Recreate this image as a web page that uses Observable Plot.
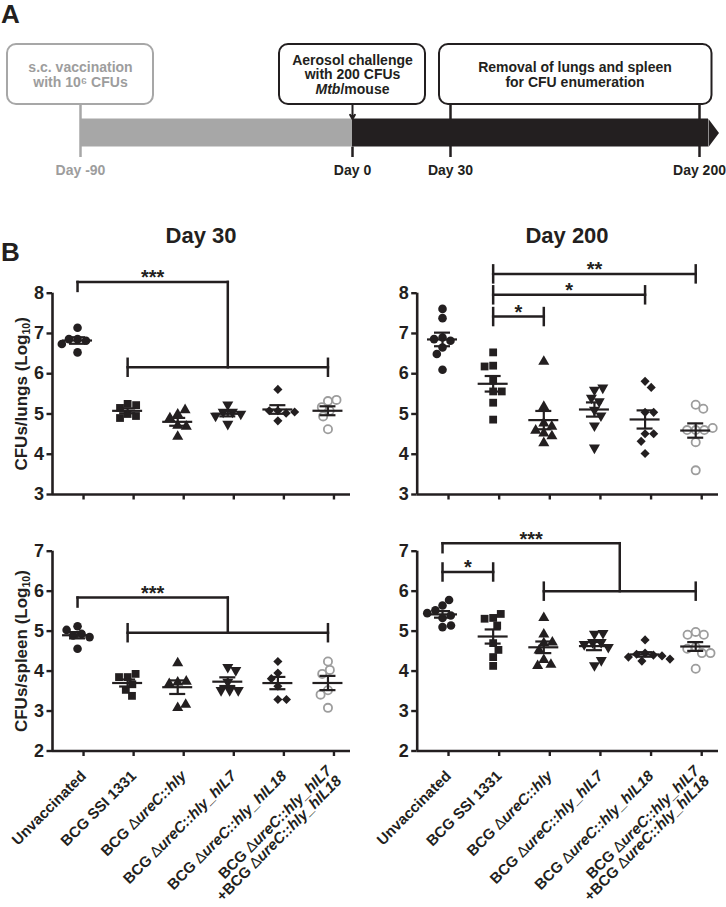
<!DOCTYPE html>
<html><head><meta charset="utf-8">
<script src="https://cdn.jsdelivr.net/npm/d3@7"></script>
<script src="https://cdn.jsdelivr.net/npm/@observablehq/plot@0.6"></script>
<style>
body{margin:0;background:#fff;}
#fig{position:relative;width:726px;height:907px;font-family:"Liberation Sans",Arial,Helvetica,sans-serif;overflow:hidden;background:#fff;}
#fig svg{position:absolute;overflow:visible;background:none;}
.lbl{position:absolute;font-weight:bold;line-height:1;white-space:nowrap;color:#231f20;}
</style></head><body><div id="fig"></div><script>
// ---------------- data ----------------
const groups = ["Unvaccinated", "BCG SSI 1331", "BCG ΔureC::hly", "BCG ΔureC::hly_hIL7", "BCG ΔureC::hly_hIL18", "BCG ΔureC::hly_hIL7\n+BCG ΔureC::hly_hIL18"];

const lungsDay30 = [
  [6.86, 6.82, 6.86, 7.14, 6.74, 6.53],
  [5.25, 5.22, 5.15, 5.00, 4.95, 4.90],
  [4.99, 5.10, 4.90, 4.71, 4.69, 4.44],
  [5.23, 5.05, 5.05, 5.00, 4.95, 4.75],
  [5.61, 5.08, 5.08, 5.02, 5.05, 4.83],
  [5.32, 5.35, 5.17, 5.08, 4.94, 4.62]
];
const lungsDay200 = [
  [7.61, 7.38, 6.90, 6.82, 6.86, 6.65, 6.49, 6.10],
  [6.53, 6.20, 6.18, 5.83, 5.56, 5.56, 5.28, 4.86],
  [6.30, 5.18, 4.77, 4.69, 4.52, 4.59, 4.45, 4.28],
  [5.60, 5.65, 5.40, 5.31, 5.10, 4.96, 4.71, 4.16],
  [5.81, 5.66, 5.04, 5.04, 4.51, 4.51, 4.32, 4.02],
  [5.23, 5.13, 4.60, 4.60, 4.60, 4.65, 4.30, 3.60]
];
const spleenDay30 = [
  [5.12, 4.93, 4.89, 4.85, 5.03, 4.56],
  [3.85, 3.93, 3.85, 3.67, 3.53, 3.38],
  [4.20, 3.72, 3.68, 3.74, 3.08, 3.16],
  [4.10, 4.02, 3.73, 3.52, 3.52, 3.52],
  [4.24, 3.95, 3.81, 3.62, 3.29, 3.29],
  [4.24, 4.03, 3.93, 3.52, 3.41, 3.08]
];
const spleenDay200 = [
  [5.64, 5.78, 5.33, 5.39, 5.52, 5.45, 5.10, 5.14],
  [5.33, 5.43, 5.31, 5.14, 4.70, 4.53, 4.35, 4.13],
  [5.33, 4.92, 4.70, 4.72, 4.52, 4.28, 4.13, 4.16],
  [4.93, 4.95, 4.72, 4.72, 4.67, 4.60, 4.14, 4.27],
  [4.78, 4.45, 4.42, 4.40, 4.38, 4.35, 4.30, 4.25],
  [4.98, 4.91, 4.91, 4.60, 4.56, 4.45, 4.45, 4.06]
];

// significance brackets (group indices, y in log10 units)
const lungs30Sig = [{kind: "group", a: 0, b1: 1, b2: 5, y: 8.28, y2: 6.16, label: "***"}];
const lungs200Sig = [
  {kind: "pair", a: 1, b: 2, y: 7.42, label: "*"},
  {kind: "pair", a: 1, b: 4, y: 7.96, label: "*"},
  {kind: "pair", a: 1, b: 5, y: 8.48, label: "**"}
];
const spleen30Sig = [{kind: "group", a: 0, b1: 1, b2: 5, y: 5.84, y2: 4.96, label: "***"}];
const spleen200Sig = [
  {kind: "group", a: 0, b1: 2, b2: 5, y: 7.2, y2: 6.0, label: "***"},
  {kind: "pair", a: 0, b: 1, y: 6.48, label: "*"}
];

const lungTicks = [3, 4, 5, 6, 7, 8];
const spleenTicks = [2, 3, 4, 5, 6, 7];

// timeline
const timeDays = [-90, 0, 30, 200];
const timeLabels = ["Day -90", "Day 0", "Day 30", "Day 200"];
const phases = [{from: -90, to: 0, kind: "vaccination"}, {from: 0, to: 200, kind: "infection"}];
const boxes = [
  {from: -90, to: -90, text: "s.c. vaccination\nwith 10⁶ CFUs", kind: "vaccination"},
  {from: 0, to: 0, text: "Aerosol challenge\nwith 200 CFUs\nMtb/mouse", kind: "infection"},
  {from: 30, to: 200, text: "Removal of lungs and spleen\nfor CFU enumeration", kind: "infection"}
];

// ---------------- drawing ----------------
const ns = "http://www.w3.org/2000/svg";
const FONT = '"Liberation Sans", Arial, Helvetica, sans-serif';
const BLACK = "#231f20", GREY = "#9d9d9d", BAR_GREY = "#a7a7a7";
const fig = document.getElementById("fig");

function place(el, left, top) { el.style.left = left + "px"; el.style.top = top + "px"; fig.appendChild(el); }
function htmlLabel(text, left, top, size, center) {
  const d = document.createElement("div");
  d.className = "lbl"; d.textContent = text; d.style.fontSize = size + "px";
  if (center) { d.style.transform = "translateX(-50%)"; }
  place(d, left, top);
}

// ---- timeline (panel A)
const TL = {boxTop: 44, boxBottom: 104, barTop: 118.5, barBottom: 146.5, tickBottom: 157, textY: 74, labelY: 170};
const colorOf = k => k === "vaccination" ? GREY : BLACK;
const tipSymbol = {draw(ctx) { ctx.moveTo(0, -14); ctx.lineTo(10.5, 0); ctx.lineTo(0, 14); ctx.closePath(); }};
const timeline = Plot.plot({
  width: 726, height: 190, margin: 0,
  x: {type: "linear", domain: [-90, 0, 30, 200], range: [80, 352, 450, 699], axis: null},
  y: {domain: [0, 190], range: [0, 190], axis: null},
  style: {fontFamily: FONT, fontWeight: "bold", background: "transparent", overflow: "visible"},
  marks: [
    Plot.ruleX(timeDays.filter(d => d < 0), {x: d => d, y1: TL.boxBottom, y2: TL.tickBottom, stroke: BAR_GREY, strokeWidth: 2.5}),
    Plot.ruleX(timeDays.filter(d => d > 0), {x: d => d, y1: TL.boxBottom, y2: TL.tickBottom, stroke: BLACK, strokeWidth: 2.5}),
    Plot.ruleX(timeDays.filter(d => d === 0), {x: d => d, y1: TL.barBottom, y2: TL.tickBottom, stroke: BLACK, strokeWidth: 2.5}),
    Plot.rect(phases.filter(p => p.kind === "vaccination"), {x1: "from", x2: "to", y1: TL.barTop, y2: TL.barBottom, fill: BAR_GREY}),
    Plot.rect(phases.filter(p => p.kind === "infection"), {x1: "from", x2: "to", y1: TL.barTop, y2: TL.barBottom, fill: BLACK, insetRight: -9}),
    Plot.dot(phases.filter(p => p.kind === "infection"), {x: "to", y: (TL.barTop + TL.barBottom) / 2, symbol: tipSymbol, r: 5, fill: BLACK, dx: 9}),
    Plot.arrow(timeDays.filter(d => d === 0), {x1: d => d, x2: d => d, y1: TL.boxBottom, y2: TL.barTop, stroke: BLACK, strokeWidth: 2, headLength: 7}),
    Plot.rect(boxes.filter(b => b.from === b.to), {x1: "from", x2: "to", y1: TL.boxTop, y2: TL.boxBottom, insetLeft: -73, insetRight: -73, rx: 9, fill: "white", stroke: d => colorOf(d.kind) === GREY ? BAR_GREY : BLACK, strokeWidth: 2}),
    Plot.rect(boxes.filter(b => b.from !== b.to), {x1: "from", x2: "to", y1: TL.boxTop, y2: TL.boxBottom, insetLeft: -11, insetRight: -12.5, rx: 9, fill: "white", stroke: BLACK, strokeWidth: 2}),
    Plot.text(boxes, {x: d => (d.from + d.to) / 2, y: TL.textY, text: "text", fill: d => colorOf(d.kind), fontSize: 14, lineHeight: 1.05}),
    Plot.text(timeDays, {x: d => d, y: TL.labelY, text: (d, i) => timeLabels[i], fill: d => d < 0 ? GREY : BLACK, fontSize: 14})
  ]
});
timeline.querySelectorAll("tspan, text").forEach(t => {
  if (t.children.length === 0 && t.textContent === "Mtb/mouse") {
    t.textContent = "";
    const it = document.createElementNS(ns, "tspan"); it.setAttribute("font-style", "italic"); it.textContent = "Mtb";
    t.appendChild(it); t.appendChild(document.createTextNode("/mouse"));
  }
});
place(timeline, 0, 0);

// ---- dot plots (panel B)
function swarm(vals, ppu, d) {
  const placed = [], out = [];
  vals.forEach((v, i) => {
    const y = v * ppu, iv = [];
    for (const q of placed) {
      const dy = Math.abs(q.y - y);
      if (dy < d) { const w = Math.sqrt(d * d - dy * dy); iv.push([q.x - w, q.x + w]); }
    }
    const c = [0];
    for (const [a, b] of iv) c.push(a, b);
    c.sort((a, b) => Math.abs(a) - Math.abs(b) || (i % 2 ? b - a : a - b));
    let x = 0;
    for (const k of c) { if (iv.every(([a, b]) => k <= a + 1e-6 || k >= b - 1e-6)) { x = k; break; } }
    placed.push({x, y}); out.push(x);
  });
  return out;
}

const symbolStyles = [
  {symbol: "circle", r: 4.3, fill: BLACK},
  {symbol: "square", r: 4.4, fill: BLACK},
  {symbol: "triangle", r: 4.1, fill: BLACK},
  {symbol: "triangle", r: 4.1, fill: BLACK, rotate: 180},
  {symbol: "diamond2", r: 4.1, fill: BLACK},
  {symbol: "circle", r: 4.1, fill: "white", stroke: GREY, strokeWidth: 1.8}
];

function part(text, attrs = {}) {
  const ts = document.createElementNS(ns, "tspan");
  for (const k in attrs) ts.setAttribute(k, attrs[k]);
  ts.textContent = text; return ts;
}

function panel(cfg) {
  const {values, sig, yDomain, yTicks, yLabel, width, height, ml, mr, mt, mb, showLabels} = cfg;
  const xDom = [-0.5, 5.45];
  const ppu = (height - mt - mb) / (yDomain[1] - yDomain[0]);
  const ppx = (width - ml - mr) / (xDom[1] - xDom[0]);
  const pts = [];
  values.forEach((vals, g) => {
    const offs = swarm(vals, ppu, 8.6);
    vals.forEach((v, i) => pts.push({g, v, x: g + offs[i] / ppx}));
  });
  const stats = values.map((vals, g) => ({g, mean: d3.mean(vals), sem: d3.deviation(vals) / Math.sqrt(vals.length)}));
  const segs = [], labels = [];
  const cap = 8.5 / ppu, leg = 9 / ppu;
  for (const s of sig) {
    if (s.kind === "pair") {
      segs.push({x1: s.a, x2: s.b, y1: s.y, y2: s.y}, {x1: s.a, x2: s.a, y1: s.y - cap, y2: s.y + cap}, {x1: s.b, x2: s.b, y1: s.y - cap, y2: s.y + cap});
      labels.push({x: (s.a + s.b) / 2, y: s.y, text: s.label});
    } else {
      const stem = (s.b1 + s.b2) / 2;
      segs.push({x1: s.a, x2: stem, y1: s.y, y2: s.y}, {x1: s.a, x2: s.a, y1: s.y, y2: s.y - leg},
        {x1: stem, x2: stem, y1: s.y, y2: s.y2}, {x1: s.b1, x2: s.b2, y1: s.y2, y2: s.y2},
        {x1: s.b1, x2: s.b1, y1: s.y2 - cap, y2: s.y2 + cap}, {x1: s.b2, x2: s.b2, y1: s.y2 - cap, y2: s.y2 + cap});
      labels.push({x: (s.a + stem) / 2, y: s.y, text: s.label});
    }
  }
  const meanHalf = 15 / ppx, capHalf = 8 / ppx;
  const marks = [
    Plot.axisY({ticks: yTicks, tickFormat: "d", tickSize: 5.5, tickPadding: 3, fontSize: 18, strokeWidth: 2.4, label: yLabel, labelAnchor: "center", labelOffset: 38}),
    Plot.axisX({ticks: d3.range(6), tickSize: 5.5, tickPadding: 17, strokeWidth: 2.4, fontSize: 15, tickRotate: -45, dx: 6,
      tickFormat: showLabels ? (i => groups[i]) : (() => ""), label: null}),
    Plot.ruleX([xDom[0]], {y1: yDomain[0], y2: yDomain[1], strokeWidth: 2.6, stroke: BLACK}),
    Plot.ruleY([yDomain[0]], {x1: xDom[0], x2: xDom[1], strokeWidth: 2.6, stroke: BLACK})
  ];
  symbolStyles.forEach((st, g) => {
    marks.push(Plot.dot(pts.filter(p => p.g === g), {x: "x", y: "v", ...st}));
  });
  marks.push(
    Plot.ruleY(stats, {y: "mean", x1: d => d.g - meanHalf, x2: d => d.g + meanHalf, stroke: BLACK, strokeWidth: 2.2}),
    Plot.ruleX(stats, {x: "g", y1: d => d.mean - d.sem, y2: d => d.mean + d.sem, stroke: BLACK, strokeWidth: 2.2}),
    Plot.ruleY(stats, {y: d => d.mean + d.sem, x1: d => d.g - capHalf, x2: d => d.g + capHalf, stroke: BLACK, strokeWidth: 2.2}),
    Plot.ruleY(stats, {y: d => d.mean - d.sem, x1: d => d.g - capHalf, x2: d => d.g + capHalf, stroke: BLACK, strokeWidth: 2.2}),
    Plot.link(segs, {x1: "x1", x2: "x2", y1: "y1", y2: "y2", stroke: BLACK, strokeWidth: 2.5, strokeLinecap: "square"}),
    Plot.text(labels, {x: "x", y: "y", text: "text", fontSize: 20, dy: -4, fill: BLACK})
  );
  const svg = Plot.plot({
    width, height, marginLeft: ml, marginRight: mr, marginTop: mt, marginBottom: mb,
    x: {domain: xDom}, y: {domain: yDomain},
    style: {fontFamily: FONT, fontWeight: "bold", color: BLACK, background: "transparent", overflow: "visible"},
    marks
  });
  const yl = svg.querySelector('g[aria-label="y-axis label"] text');
  if (yl && yLabel) {
    const base = yLabel.replace(/\(Log10\)$/, "(Log");
    yl.textContent = "";
    yl.setAttribute("font-size", 17);
    yl.appendChild(part(base));
    yl.appendChild(part("10", {"font-size": "62%", dy: "3"}));
    yl.appendChild(part(")", {dy: "-3"}));
  }
  if (showLabels) {
    svg.querySelectorAll('g[aria-label="x-axis tick label"] text').forEach((t, i) => {
      const lines = groups[i].split("\n");
      t.removeAttribute("y"); t.removeAttribute("dy");
      while (t.firstChild) t.removeChild(t.firstChild);
      lines.forEach((line, li) => {
        const ts = document.createElementNS(ns, "tspan");
        ts.setAttribute("x", 0);
        ts.setAttribute("y", (0.32 + (li - (lines.length - 1) / 2) * 0.95) + "em");
        const m = line.match(/^(\+?BCG )Δ(.+)$/);
        if (m) { ts.appendChild(part(m[1])); ts.appendChild(part("Δ", {"font-weight": "normal"})); ts.appendChild(part(m[2], {"font-style": "italic"})); }
        else ts.appendChild(part(line));
        t.appendChild(ts);
      });
    });
  } else {
    svg.querySelectorAll('g[aria-label="x-axis tick label"]').forEach(g => g.remove());
  }
  return svg;
}

place(panel({values: lungsDay30, sig: lungs30Sig, yDomain: [3, 8], yTicks: lungTicks, yLabel: "CFUs/lungs (Log10)",
  width: 360, height: 280, ml: 52, mr: 10, mt: 62.7, mb: 16, showLabels: false}), 0, 230);
place(panel({values: lungsDay200, sig: lungs200Sig, yDomain: [3, 8], yTicks: lungTicks, yLabel: null,
  width: 366, height: 280, ml: 56.7, mr: 8, mt: 62.7, mb: 16, showLabels: false}), 360, 230);
place(panel({values: spleenDay30, sig: spleen30Sig, yDomain: [2, 7], yTicks: spleenTicks, yLabel: "CFUs/spleen (Log10)",
  width: 360, height: 387, ml: 52, mr: 10, mt: 30.7, mb: 156.5, showLabels: true}), 0, 520);
place(panel({values: spleenDay200, sig: spleen200Sig, yDomain: [2, 7], yTicks: spleenTicks, yLabel: null,
  width: 366, height: 387, ml: 56.7, mr: 8, mt: 30.7, mb: 156.5, showLabels: true}), 360, 520);

htmlLabel("A", 1, 1, 26, false);
htmlLabel("B", 1, 239, 26, false);
htmlLabel("Day 30", 201, 225, 22, true);
htmlLabel("Day 200", 567, 225, 22, true);
</script></body></html>
